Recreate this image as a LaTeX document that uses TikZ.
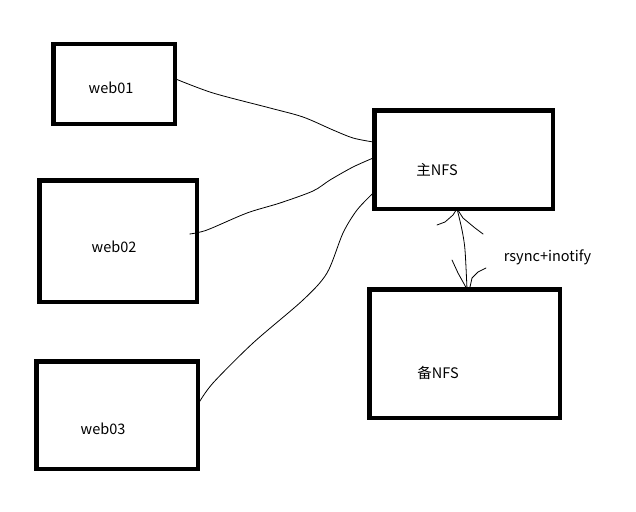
\documentclass[tikz,border=0pt]{standalone}
\usepackage{fontspec}
\setmainfont{Noto Sans CJK SC}
\usetikzlibrary{calc}
\begin{document}
\begin{tikzpicture}[x=1pt,y=-1pt,
  box/.style={draw=black,line width=4.5pt,inner sep=0pt,outer sep=0pt},
  lbl/.style={inner sep=0pt,font=\fontsize{14.5}{17}\selectfont},
  wire/.style={draw=black,line width=0.8pt,line join=round,line cap=round}]
\useasboundingbox[fill=white] (0,0) rectangle (636,511);
% boxes
\node[box,minimum width=121.5pt,minimum height=79.5pt] (w1) at (114,84) {};
\node[box,minimum width=157.5pt,minimum height=121.5pt] (w2) at (118,241) {};
\node[box,minimum width=161.5pt,minimum height=107.5pt] (w3) at (117,415) {};
\node[box,minimum width=178.5pt,minimum height=98.5pt] (m) at (463.5,159.5) {};
\node[box,minimum width=190.5pt,minimum height=128.5pt] (b) at (464.5,353.5) {};
% labels
\node[lbl] (t1) at (111,88) {web01};
\node[lbl] (t2) at (114,246.5) {web02};
\node[lbl] (t3) at (103,429) {web03};
\node[lbl] (tm) at (437,170) {主NFS};
\node[lbl] (tb) at (438,373) {备NFS};
\node[lbl] (tr) at (547.5,257) {rsync+inotify};
% anchor points
\coordinate (a1) at ($(w1.east)+(1,-5)$);
\coordinate (a2) at ($(w2.east)+(-7,-7)$);
\coordinate (a3) at ($(w3.east)+(1,-12)$);
\coordinate (m1) at ($(m.west)+(-1,-17.5)$);
\coordinate (m2) at ($(m.west)+(-1,-1.5)$);
\coordinate (m3) at ($(m.west)+(-1,33.5)$);
\coordinate (ms) at ($(m.south)+(-6.5,0)$);
\coordinate (bn) at ($(b.north)+(2.5,0)$);
% connectors
\draw[wire] plot[smooth,tension=0.5] coordinates {(a1) (213,93) (270,108) (303,117) (333,130) (353,138) (m1)};
\draw[wire] plot[smooth,tension=0.5] coordinates {(a2) (207,230) (247,213) (280,203) (313,191) (330,180) (353,167) (m2)};
\draw[wire] plot[smooth,tension=0.5] coordinates {(a3) (213,383) (253,343) (303,300) (327,273) (343,233) (357,210) (m3)};
% double arrow
\draw[wire] plot[smooth,tension=0.5] coordinates {(ms) (462,230) (465,250) (bn)};
\draw[wire] (ms) -- (453,215) -- (445,222) -- (437,225);
\draw[wire] (ms) -- (463,218) -- (475,228) -- (483,234);
\draw[wire] (bn) -- (458,273) -- (452,260);
\draw[wire] (bn) -- (470,287) -- (472,278) -- (478,272) -- (486,268);
\end{tikzpicture}
\end{document}
